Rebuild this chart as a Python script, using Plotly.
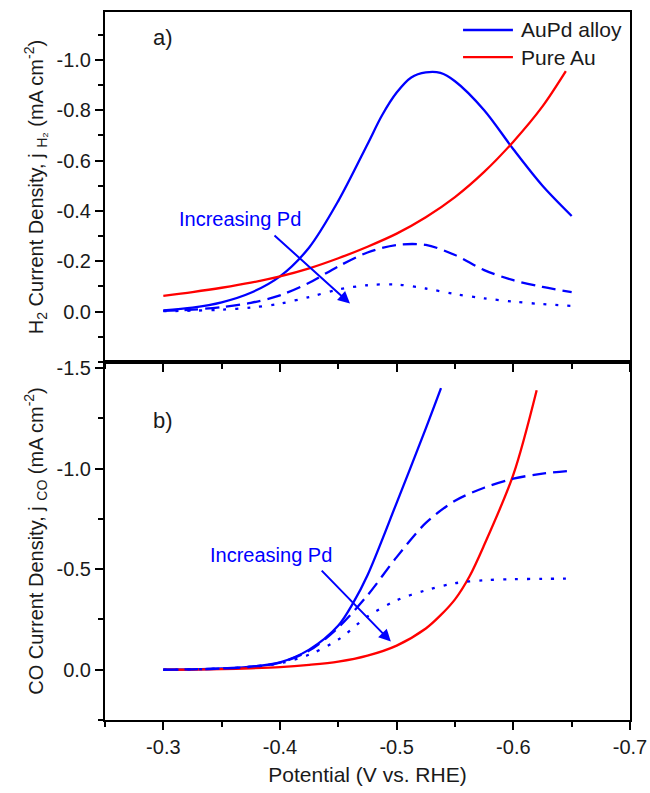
import plotly.graph_objects as go
from plotly.subplots import make_subplots

# ---------------- data ----------------
potential = [-0.30, -0.325, -0.35, -0.375, -0.40, -0.425, -0.45, -0.475,
             -0.50, -0.525, -0.55, -0.575, -0.60, -0.625, -0.65]

# H2 partial current density (top panel, mA cm-2)
potential_aupd_h2_solid = [-0.30, -0.325, -0.35, -0.375, -0.40, -0.425, -0.45,
                           -0.475, -0.4875, -0.50, -0.5125, -0.525, -0.5375,
                           -0.55, -0.575, -0.60, -0.625, -0.65]
h2_aupd_solid = [-0.005, -0.016, -0.037, -0.075, -0.14, -0.255, -0.44, -0.665,
                 -0.78, -0.87, -0.93, -0.95, -0.948, -0.915, -0.80, -0.645,
                 -0.50, -0.38]
h2_aupd_dash = [-0.003, -0.008, -0.018, -0.035, -0.065, -0.115, -0.18, -0.235,
                -0.265, -0.265, -0.225, -0.165, -0.125, -0.098, -0.078]
h2_aupd_dot = [-0.002, -0.004, -0.008, -0.016, -0.032, -0.058, -0.088, -0.105,
               -0.108, -0.092, -0.07, -0.053, -0.04, -0.03, -0.023]
potential_au_h2 = [-0.30, -0.325, -0.35, -0.375, -0.40, -0.425, -0.45, -0.475,
                   -0.50, -0.525, -0.55, -0.575, -0.60, -0.625, -0.645]
h2_au = [-0.063, -0.078, -0.095, -0.115, -0.14, -0.172, -0.212, -0.258,
         -0.31, -0.375, -0.455, -0.555, -0.675, -0.815, -0.955]

# CO partial current density (bottom panel, mA cm-2)
potential_aupd_co_solid = [-0.30, -0.325, -0.35, -0.375, -0.40, -0.425, -0.45,
                           -0.4625, -0.475, -0.50, -0.525, -0.538]
co_aupd_solid = [0.0, -0.002, -0.006, -0.015, -0.037, -0.10, -0.22, -0.33,
                 -0.47, -0.83, -1.20, -1.40]
co_aupd_dash = [0.0, -0.002, -0.006, -0.015, -0.035, -0.095, -0.21, -0.37,
                -0.56, -0.73, -0.84, -0.905, -0.95, -0.975, -0.99]
co_aupd_dot = [0.0, -0.002, -0.006, -0.014, -0.032, -0.075, -0.15, -0.265,
               -0.345, -0.395, -0.43, -0.445, -0.45, -0.452, -0.453]
potential_au_co = [-0.30, -0.325, -0.35, -0.375, -0.40, -0.425, -0.45, -0.475,
                   -0.50, -0.525, -0.5375, -0.55, -0.5625, -0.575, -0.60, -0.62]
co_au = [0.0, -0.001, -0.003, -0.007, -0.013, -0.024, -0.04, -0.07,
         -0.12, -0.205, -0.27, -0.35, -0.465, -0.62, -0.97, -1.39]

x_ticks = [-0.3, -0.4, -0.5, -0.6, -0.7]
legend_names = ["AuPd alloy", "Pure Au"]

BLUE = "#0000FF"
RED = "#FF0000"
INK = "#1a1a1a"
FONT = "Arial, Liberation Sans, sans-serif"
DASH = "14px,7px"
DOT = "3px,9px"

fig = make_subplots(rows=2, cols=1, vertical_spacing=0,
                    row_heights=[0.4944, 0.5056])

def add(x, y, color, dash, row, name):
    fig.add_trace(go.Scatter(
        x=x, y=y, mode="lines", name=name, showlegend=False,
        line=dict(color=color, width=2.3, dash=dash, shape="spline", smoothing=0.9),
        hoverinfo="skip"), row=row, col=1)

add(potential_aupd_h2_solid, h2_aupd_solid, BLUE, "solid", 1, legend_names[0])
add(potential_au_h2, h2_au, RED, "solid", 1, legend_names[1])
add(potential, h2_aupd_dash, BLUE, DASH, 1, legend_names[0])
add(potential, h2_aupd_dot, BLUE, DOT, 1, legend_names[0])

add(potential_aupd_co_solid, co_aupd_solid, BLUE, "solid", 2, legend_names[0])
add(potential_au_co, co_au, RED, "solid", 2, legend_names[1])
add(potential, co_aupd_dash, BLUE, DASH, 2, legend_names[0])
add(potential, co_aupd_dot, BLUE, DOT, 2, legend_names[0])

axis_common = dict(showline=True, linecolor="black", linewidth=2, mirror=True,
                   ticks="outside", tickcolor="black", tickwidth=2, ticklen=8,
                   showgrid=False, zeroline=False, automargin=False,
                   tickfont=dict(family=FONT, size=20, color=INK))

fig.update_xaxes(range=[-0.25, -0.7], tickvals=x_ticks,
                 ticktext=[f"{v:.1f}" for v in x_ticks],
                 minor=dict(ticks="outside", dtick=0.05, tick0=-0.3, ticklen=5,
                            tickwidth=2, tickcolor="black"),
                 **axis_common)
fig.update_xaxes(showticklabels=False, row=1, col=1)
fig.update_xaxes(title=dict(text="Potential (V vs. RHE)", standoff=10,
                            font=dict(family=FONT, size=21, color=INK)),
                 row=2, col=1)

fig.update_yaxes(range=[0.2, -1.19], tickvals=[-1.0, -0.8, -0.6, -0.4, -0.2, 0.0],
                 ticktext=["-1.0", "-0.8", "-0.6", "-0.4", "-0.2", "0.0"],
                 minor=dict(ticks="outside", dtick=0.1, tick0=0, ticklen=5,
                            tickwidth=2, tickcolor="black"),
                 title=dict(text="H<sub>2</sub> Current Density, j <sub>H₂</sub> (mA cm<sup>-2</sup>)",
                            standoff=8, font=dict(family=FONT, size=20, color=INK)),
                 row=1, col=1, **axis_common)
fig.update_yaxes(range=[0.25, -1.53], tickvals=[-1.5, -1.0, -0.5, 0.0],
                 ticktext=["-1.5", "-1.0", "-0.5", "0.0"],
                 minor=dict(ticks="outside", dtick=0.25, tick0=0, ticklen=5,
                            tickwidth=2, tickcolor="black"),
                 title=dict(text="CO Current Density, j <sub>CO</sub> (mA cm<sup>-2</sup>)",
                            standoff=8, font=dict(family=FONT, size=20, color=INK)),
                 row=2, col=1, **axis_common)

# panel labels
fig.add_annotation(x=-0.30, y=-1.087, xref="x", yref="y", text="a)", showarrow=False,
                   font=dict(family=FONT, size=22, color=INK))
fig.add_annotation(x=-0.30, y=-1.24, xref="x2", yref="y2", text="b)", showarrow=False,
                   font=dict(family=FONT, size=22, color=INK))

# "Increasing Pd" arrows
ann_font = dict(family=FONT, size=20, color=BLUE)
fig.add_annotation(x=-0.366, y=-0.37, xref="x", yref="y", text="Increasing Pd",
                   showarrow=False, font=ann_font)
fig.add_annotation(x=-0.460, y=-0.032, ax=-0.394, ay=-0.308, xref="x", yref="y",
                   axref="x", ayref="y", text="", showarrow=True, arrowhead=2,
                   arrowsize=1.2, arrowwidth=2, arrowcolor=BLUE)
fig.add_annotation(x=-0.392, y=-0.57, xref="x2", yref="y2", text="Increasing Pd",
                   showarrow=False, font=ann_font)
fig.add_annotation(x=-0.495, y=-0.14, ax=-0.4345, ay=-0.50, xref="x2", yref="y2",
                   axref="x2", ayref="y2", text="", showarrow=True, arrowhead=2,
                   arrowsize=1.2, arrowwidth=2, arrowcolor=BLUE)

# legend (drawn as key lines + labels, top-right of panel a)
legend_colors = [BLUE, RED]
legend_y = [0.9746, 0.9364]
for name, col, ly in zip(legend_names, legend_colors, legend_y):
    fig.add_shape(type="line", xref="paper", yref="paper", x0=0.682, x1=0.777,
                  y0=ly, y1=ly, line=dict(color=col, width=2.3))
    fig.add_annotation(x=0.789, y=ly, xref="paper", yref="paper", text=name,
                       showarrow=False, xanchor="left", yanchor="middle",
                       font=dict(family=FONT, size=21, color=INK))

fig.update_layout(
    width=650, height=793,
    margin=dict(l=105, r=20, t=12, b=73),
    paper_bgcolor="white", plot_bgcolor="white",
    font=dict(family=FONT, size=20, color=INK),
    showlegend=False,
)

fig.write_html("out.html",
               config={"displayModeBar": False, "staticPlot": True},
               post_script="document.body.style.margin='0px';"
                           "document.body.style.overflow='hidden';")
